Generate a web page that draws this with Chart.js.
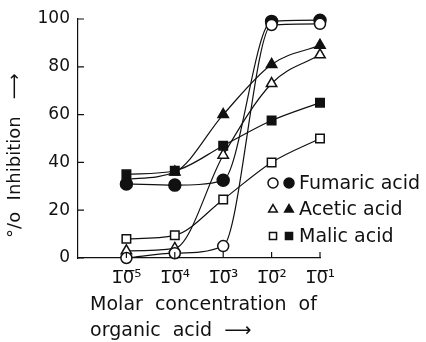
<!DOCTYPE html>
<html>
<head>
<meta charset="utf-8">
<script src="https://cdn.jsdelivr.net/npm/chart.js@4"></script>
<style>
  html, body { margin: 0; padding: 0; background: #fff; }
  #wrap { width: 426px; height: 342px; }
</style>
</head>
<body>
<div id="wrap"><canvas id="chart" width="426" height="342"></canvas></div>
<script>
// x positions 1..5 stand for 10^-5 .. 10^-1 M
const concentrations = [1, 2, 3, 4, 5];
const xTickLabels = ['1\u03050\u0305\u2075', '1\u03050\u0305\u2074', '1\u03050\u0305\u00b3', '1\u03050\u0305\u00b2', '1\u03050\u0305\u00b9'];

const fumaricOpen = [0, 2, 5, 97.5, 98];
const fumaricFilled = [31, 30.5, 32.5, 99, 99.5];
const aceticOpen = [3, 4, 43, 73, 85];
const aceticFilled = [33, 36, 60, 81, 89];
const malicOpen = [8, 9.5, 24.5, 40, 50];
const malicFilled = [35, 36.5, 47, 57.5, 65];

const yTicks = [0, 20, 40, 60, 80, 100];

const legendRows = [
  { label: 'Fumaric acid', style: 'circle' },
  { label: 'Acetic acid', style: 'triangle' },
  { label: 'Malic acid', style: 'rect' },
];

function makeSeries(values, style, filled) {
  return {
    data: values.map((v, i) => ({ x: concentrations[i], y: v })),
    borderColor: '#111',
    borderWidth: 1.2,
    pointStyle: style,
    pointRadius: style === 'circle' ? (filled ? 6 : 5.5) : 6,
    pointBackgroundColor: filled ? '#111' : '#fff',
    pointBorderColor: '#111',
    pointBorderWidth: 1.5,
    cubicInterpolationMode: 'monotone',
    clip: false,
  };
}

const inwardTicks = {
  id: 'inwardTicks',
  afterDraw(chart) {
    const ctx = chart.ctx;
    const x = chart.scales.x;
    const y = chart.scales.y;
    const area = chart.chartArea;
    ctx.save();
    ctx.strokeStyle = '#111';
    ctx.lineWidth = 1.2;
    ctx.beginPath();
    yTicks.forEach(t => {
      const py = y.getPixelForValue(t);
      ctx.moveTo(area.left, py);
      ctx.lineTo(area.left + 6, py);
    });
    concentrations.forEach(c => {
      const px = x.getPixelForValue(c);
      ctx.moveTo(px, area.bottom);
      ctx.lineTo(px, area.bottom - 6);
    });
    ctx.stroke();
    ctx.restore();
  },
};

const pairLegend = {
  id: 'pairLegend',
  afterDraw(chart) {
    const ctx = chart.ctx;
    ctx.save();
    ctx.font = '19px "DejaVu Sans"';
    ctx.textBaseline = 'middle';
    legendRows.forEach((row, i) => {
      const cy = 183 + i * 26.5;
      const opts = { pointStyle: row.style, radius: 5, borderWidth: 1.5 };
      ctx.strokeStyle = '#111';
      ctx.lineWidth = 1.5;
      ctx.fillStyle = '#fff';
      Chart.helpers.drawPoint(ctx, opts, 273, cy);
      ctx.fillStyle = '#111';
      Chart.helpers.drawPoint(ctx, opts, 289, cy);
      ctx.fillText(row.label, 299, cy + 1);
    });
    ctx.restore();
  },
};

function buildChart() {
  const config = {
    type: 'line',
    data: {
      datasets: [
        makeSeries(fumaricOpen, 'circle', false),
        makeSeries(fumaricFilled, 'circle', true),
        makeSeries(aceticOpen, 'triangle', false),
        makeSeries(aceticFilled, 'triangle', true),
        makeSeries(malicOpen, 'rect', false),
        makeSeries(malicFilled, 'rect', true),
      ],
    },
    options: {
      responsive: false,
      animation: false,
      layout: { padding: { top: 19, right: 106, left: 0, bottom: 0 } },
      plugins: { legend: { display: false }, tooltip: { enabled: false } },
      scales: {
        x: {
          type: 'linear',
          min: 0,
          max: 5,
          afterBuildTicks: scale => {
            scale.ticks = concentrations.map(v => ({ value: v }));
          },
          afterFit: scale => { scale.height = 84; },
          grid: { display: false, drawTicks: false },
          border: { display: true, color: '#111', width: 1.2 },
          ticks: {
            color: '#111',
            font: { family: 'DejaVu Sans', size: 18 },
            padding: 10,
            maxRotation: 0,
            autoSkip: false,
            callback: (v, i) => xTickLabels[i],
          },
          title: {
            display: true,
            align: 'start',
            text: ['  Molar  concentration  of', '  organic  acid  \u27f6'],
            color: '#111',
            font: { family: 'DejaVu Sans', size: 19, lineHeight: 1.35 },
            padding: { top: 0, bottom: -2 },
          },
        },
        y: {
          min: 0,
          max: 100,
          afterBuildTicks: scale => {
            scale.ticks = yTicks.map(v => ({ value: v }));
          },
          afterFit: scale => { scale.width = 78; },
          grid: { display: false, drawTicks: false },
          border: { display: true, color: '#111', width: 1.2 },
          ticks: {
            color: '#111',
            font: { family: 'DejaVu Sans', size: 17 },
            padding: 8,
          },
          title: {
            display: true,
            text: '\u00b0/o  Inhibition   \u27f6      ',
            color: '#111',
            font: { family: 'DejaVu Sans', size: 18 },
            padding: { top: 5, bottom: 0 },
          },
        },
      },
    },
    plugins: [inwardTicks, pairLegend],
  };

  new Chart(document.getElementById('chart'), config);
}

buildChart();
</script>
</body>
</html>
